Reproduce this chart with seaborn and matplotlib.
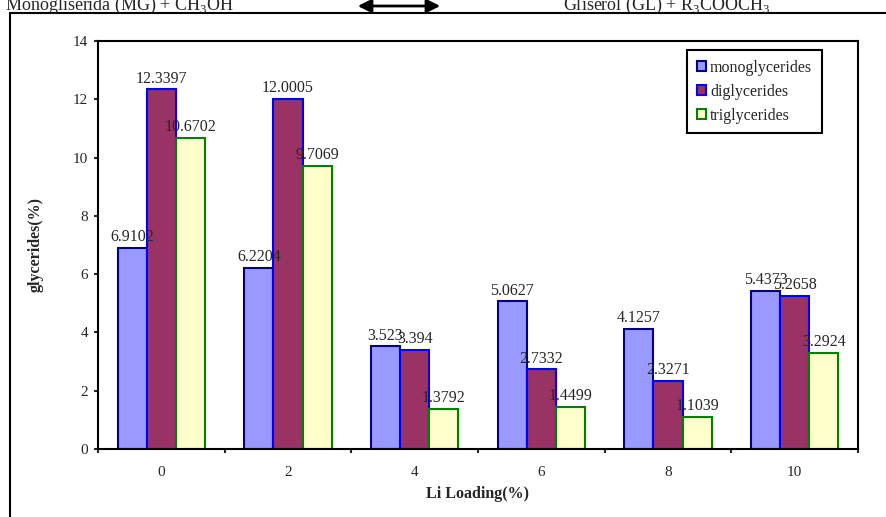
import numpy as np
import pandas as pd
import matplotlib
matplotlib.use('Agg')
import matplotlib.pyplot as plt
from matplotlib.patches import Rectangle, FancyArrowPatch
import seaborn as sns

# chart data
loadings = ['0', '2', '4', '6', '8', '10']
series = ['monoglycerides', 'diglycerides', 'triglycerides']
mono = [6.9102, 6.2204, 3.523, 5.0627, 4.1257, 5.4373]
di = [12.3397, 12.0005, 3.394, 2.7332, 2.3271, 5.2658]
tri = [10.6702, 9.7069, 1.3792, 1.4499, 1.1039, 3.2924]

fills = ['#9999FF', '#993366', '#FFFFCC']
edges = ['#000080', '#0000FF', '#008000']

sns.set_style("ticks")
plt.rcParams['font.family'] = ['Liberation Serif', 'DejaVu Serif']
plt.rcParams['mathtext.fontset'] = 'custom'
plt.rcParams['mathtext.rm'] = 'Liberation Serif'

df = pd.DataFrame({
    'loading': loadings * 3,
    'series': np.repeat(series, len(loadings)),
    'value': mono + di + tri,
})

fig = plt.figure(figsize=(8.86, 5.17), dpi=100)
ax = fig.add_axes([98 / 886, 68 / 517, 760 / 886, 408 / 517])

sns.barplot(data=df, x='loading', y='value', hue='series', order=loadings,
            hue_order=series, palette=fills, width=0.69, saturation=1,
            legend=False, ax=ax)

for cont, ec, vals in zip(ax.containers, edges, [mono, di, tri]):
    for p in cont.patches:
        p.set_edgecolor(ec)
        p.set_linewidth(1.5)
    ax.bar_label(cont, labels=[f'{v:g}' for v in vals], padding=2, fontsize=11.5)

ax.set_xlim(-0.5, 5.5)
ax.set_ylim(0, 14)
ax.set_yticks(np.arange(0, 15, 2))
ax.set_xticks(np.arange(-0.5, 6, 1), minor=True)
ax.tick_params(axis='x', which='major', length=0, pad=12, labelsize=11)
ax.tick_params(axis='x', which='minor', length=3, width=1.5, direction='out')
ax.tick_params(axis='y', length=3, width=1.5, direction='out', pad=4, labelsize=11)
for s in ax.spines.values():
    s.set_visible(True)
    s.set_linewidth(1.5)
    s.set_color('black')

ax.set_xlabel('Li Loading(%)', fontsize=11.5, fontweight='bold')
ax.set_ylabel('glycerides(%)', fontsize=11.5, fontweight='bold')
ax.xaxis.set_label_coords(0.5, -0.09)
ax.yaxis.set_label_coords(-0.072, 0.5)

leg = ax.legend(handles=list(ax.containers), labels=series, loc='upper left',
                bbox_to_anchor=((687 - 98) / 760, (449 - 50) / 408),
                borderaxespad=0, fontsize=11.5, handlelength=0.6, handleheight=0.6,
                handletextpad=0.25, labelspacing=0.5, borderpad=0.6,
                fancybox=False, framealpha=1)
leg.get_frame().set_edgecolor('black')
leg.get_frame().set_linewidth(1.5)

# outer frame around the chart
fig.add_artist(Rectangle((10 / 886, -0.2), 1.5, 1 - 13 / 517 + 0.2,
                         transform=fig.transFigure, fill=False,
                         edgecolor='black', linewidth=1.5))

# reaction text at the top, cut off by the image edge
fig.text(5 / 886, 1 - 10 / 517, r'Monogliserida (MG) + CH$_3$OH', fontsize=13,
         va='baseline', ha='left')
fig.text(563 / 886, 1 - 10 / 517, r'Gliserol (GL) + R$_3$COOCH$_3$', fontsize=13,
         va='baseline', ha='left')
fig.add_artist(FancyArrowPatch((355 / 886, 1 - 6 / 517), (443 / 886, 1 - 6 / 517),
                               transform=fig.transFigure, arrowstyle='<|-|>',
                               mutation_scale=20, linewidth=2, color='black'))

fig.savefig('out.png', dpi=100, facecolor='white')
plt.close(fig)
